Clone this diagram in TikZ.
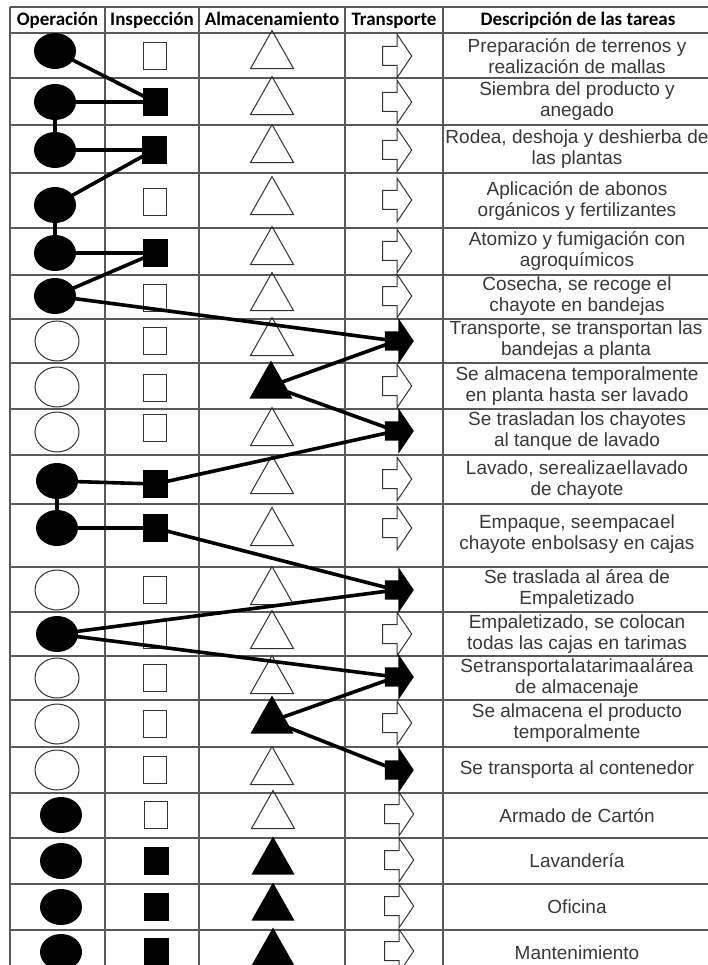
\documentclass[tikz,border=0pt]{standalone}
\usepackage{fontspec}
\setmainfont{Liberation Sans}
\newfontfamily\headfont{Carlito}
\usetikzlibrary{shapes.geometric,shapes.arrows}
\newcommand\tightwords[1]{{\spaceskip=0.8pt\relax #1}}
\begin{document}
\begin{tikzpicture}[x=1pt,y=-1pt,
  grid/.style={draw=black!65,line width=1.1pt},
  head/.style={font=\headfont\bfseries\fontsize{19}{20}\selectfont,inner sep=0pt,anchor=base},
  desc/.style={font=\fontsize{19}{21.5}\selectfont,text=black!78,align=center,inner sep=0pt},
  opF/.style={ellipse,fill=black,minimum width=42pt,minimum height=36pt,inner sep=0pt},
  opH/.style={ellipse,draw=black!80,line width=1pt,fill=white,minimum width=44pt,minimum height=40pt,inner sep=0pt},
  inF/.style={rectangle,fill=black,minimum width=25pt,minimum height=28pt,inner sep=0pt},
  inH/.style={rectangle,draw=black!80,line width=1pt,fill=white,minimum width=23pt,minimum height=27pt,inner sep=0pt},
  tri/.style={isosceles triangle,shape border rotate=90,isosceles triangle stretches,
              minimum width=43pt,minimum height=38pt,inner sep=0pt,outer sep=0pt},
  alF/.style={tri,fill=black},
  alH/.style={tri,draw=black!80,line width=1pt},
  arr/.style={single arrow,single arrow tip angle=112,single arrow head extend=12pt,
              minimum width=42pt,minimum height=29pt,inner xsep=0pt,inner ysep=9pt},
  trF/.style={arr,fill=black,minimum width=44pt,single arrow head extend=13pt,inner ysep=9.5pt},
  trH/.style={arr,draw=black!80,line width=1pt},
  flow/.style={line width=3.6pt,draw=black}
]
\useasboundingbox (0,0) rectangle (708,965);
\fill[white] (0,0) rectangle (708,965);

% table rules
\foreach \y in {7,33,78,125,173,228,275,319,363,409,455,504,567,612,656,700,747,793,838,884,930}
  \draw[grid] (10,\y) -- (712,\y);
\foreach \x in {10,105,199,345,443}
  \draw[grid] (\x,7) -- (\x,966);

% header
\node[head] (h1) at (57.5,26) {Operación};
\node[head] (h2) at (152,26) {Inspección};
\node[head] (h3) at (272,26) {Almacenamiento};
\node[head] (h4) at (394,26) {Transporte};
\node[head] (h5) at (578,26) {Descripción de las tareas};

% row 1
\node[opF] (o1) at (55,51) {};
\node[inH] (i1) at (155,56) {};
\node[alH] (a1) at (272,56) {};
\node[trH] (t1) at (394,56) {};
% row 2
\node[opF] (o2) at (55,102) {};
\node[inF] (i2) at (155,102) {};
\node[alH] (a2) at (272,102) {};
\node[trH] (t2) at (394,102) {};
% row 3
\node[opF] (o3) at (55,150) {};
\node[inF] (i3) at (154,150) {};
\node[alH] (a3) at (272,150) {};
\node[trH] (t3) at (394,150) {};
% row 4
\node[opF] (o4) at (55,205) {};
\node[inH] (i4) at (155,202) {};
\node[alH] (a4) at (272,202) {};
\node[trH] (t4) at (394,200) {};
% row 5
\node[opF] (o5) at (55,253) {};
\node[inF] (i5) at (155,253) {};
\node[alH] (a5) at (272,252) {};
\node[trH] (t5) at (394,251) {};
% row 6
\node[opF] (o6) at (55,296) {};
\node[inH] (i6) at (155,298) {};
\node[alH] (a6) at (272,298) {};
\node[trH] (t6) at (394,296) {};
% row 7
\node[opH] (o7) at (57,341) {};
\node[inH] (i7) at (155,341) {};
\node[alH] (a7) at (272,343) {};
\node[trF] (t7) at (396,341) {};
% row 8
\node[opH] (o8) at (57,387) {};
\node[inH] (i8) at (155,388) {};
\node[alF] (a8) at (271,386) {};
\node[trH] (t8) at (394,386) {};
% row 9
\node[opH] (o9) at (57,432) {};
\node[inH] (i9) at (155,428) {};
\node[alH] (a9) at (272,433) {};
\node[trF] (t9) at (396,431) {};
% row 10
\node[opF] (o10) at (57,481) {};
\node[inF] (i10) at (155,484) {};
\node[alH] (a10) at (272,481) {};
\node[trH] (t10) at (394,479) {};
% row 11
\node[opF] (o11) at (57,528) {};
\node[inF] (i11) at (155,528) {};
\node[alH] (a11) at (272,533) {};
\node[trH] (t11) at (394,528) {};
% row 12
\node[opH] (o12) at (57,590) {};
\node[inH] (i12) at (155,590) {};
\node[alH] (a12) at (272,592) {};
\node[trF] (t12) at (396,590) {};
% row 13
\node[opF] (o13) at (57,634) {};
\node[inH] (i13) at (155,635) {};
\node[alH] (a13) at (272,636) {};
\node[trH] (t13) at (394,634) {};
% row 14
\node[opH] (o14) at (57,678) {};
\node[inH] (i14) at (155,678) {};
\node[alH] (a14) at (272,681) {};
\node[trF] (t14) at (396,677) {};
% row 15
\node[opH] (o15) at (57,724) {};
\node[inH] (i15) at (155,724) {};
\node[alF] (a15) at (272,721) {};
\node[trH] (t15) at (394,723) {};
% row 16
\node[opH] (o16) at (57,770) {};
\node[inH] (i16) at (155,770) {};
\node[alH] (a16) at (272,772) {};
\node[trF] (t16) at (396,770) {};
% row 17
\node[opF] (o17) at (61,815) {};
\node[inH] (i17) at (156,815) {};
\node[alH] (a17) at (273,816) {};
\node[trH] (t17) at (396,814) {};
% row 18
\node[opF] (o18) at (61,861) {};
\node[inF] (i18) at (156,861) {};
\node[alF] (a18) at (273,862) {};
\node[trH] (t18) at (396,860) {};
% row 19
\node[opF] (o19) at (61,907) {};
\node[inF] (i19) at (156,907) {};
\node[alF] (a19) at (273,908) {};
\node[trH] (t19) at (396,906) {};
% row 20
\node[opF] (o20) at (61,952) {};
\node[inF] (i20) at (156,952) {};
\node[alF] (a20) at (273,953) {};
\node[trH] (t20) at (396,951) {};

% process flow
\draw[flow] (o1.center) -- (i2.center);
\draw[flow] (o2.center) -- (i2.center);
\draw[flow] (o2.center) -- (o3.center);
\draw[flow] (o3.center) -- (i3.center);
\draw[flow] (i3.center) -- (o4.center);
\draw[flow] (o4.center) -- (o5.center);
\draw[flow] (o5.center) -- (i5.center);
\draw[flow] (i5.center) -- (o6.center);
\draw[flow] (o6.center) -- (t7.center);
\draw[flow] (t7.center) -- (a8.center);
\draw[flow] (a8.center) -- (t9.center);
\draw[flow] (t9.center) -- (i10.center);
\draw[flow] (o10.center) -- (i10.center);
\draw[flow] (o10.center) -- (o11.center);
\draw[flow] (o11.center) -- (i11.center);
\draw[flow] (i11.center) -- (t12.center);
\draw[flow] (t12.center) -- (o13.center);
\draw[flow] (o13.center) -- (t14.center);
\draw[flow] (t14.center) -- (a15.center);
\draw[flow] (a15.center) -- (t16.center);

% task descriptions
\node[desc] (d1) at (577,56) {Preparación de terrenos y\\realización de mallas};
\node[desc] (d2) at (577,101) {Siembra del producto y\\anegado};
\node[desc] (d3) at (577,149) {Rodea, deshoja y deshierba de\\las plantas};
\node[desc] (d4) at (577,201) {Aplicación de abonos\\orgánicos y fertilizantes};
\node[desc] (d5) at (577,251) {Atomizo y fumigación con\\agroquímicos};
\node[desc] (d6) at (577,296) {Cosecha, se recoge el\\chayote en bandejas};
\node[desc] (d7) at (576,340) {Transporte, se transportan las\\bandejas a planta};
\node[desc] (d8) at (577,386) {Se almacena temporalmente\\en planta hasta ser lavado};
\node[desc] (d9) at (577,431) {Se trasladan los chayotes\\al tanque de lavado};
\node[desc] (d10) at (577,480) {Lavado, \tightwords{se realiza el lavado}\\de chayote};
\node[desc] (d11) at (577,534) {Empaque, \tightwords{se empaca el}\\chayote \tightwords{en bolsas y} en cajas};
\node[desc] (d12) at (577,589) {Se traslada al área de\\Empaletizado};
\node[desc] (d13) at (577,634) {Empaletizado, se colocan\\todas las cajas en tarimas};
\node[desc] (d14) at (577,678) {\tightwords{Se transporta la tarima al área}\\de almacenaje};
\node[desc] (d15) at (577,723) {Se almacena el producto\\temporalmente};
\node[desc] (d16) at (577,770) {Se transporta al contenedor};
\node[desc] (d17) at (577,816) {Armado de Cartón};
\node[desc] (d18) at (577,861) {Lavandería};
\node[desc] (d19) at (577,907) {Oficina};
\node[desc] (d20) at (577,953) {Mantenimiento};
\end{tikzpicture}
\end{document}
